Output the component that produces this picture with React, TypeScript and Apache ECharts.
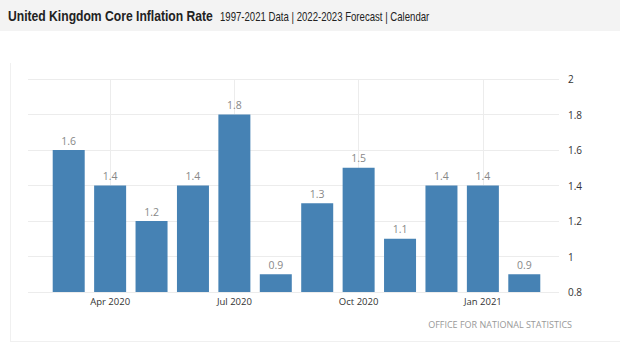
import React, { useEffect, useRef } from "react";
import * as echarts from "echarts";

const categories = [
  "Mar 2020", "Apr 2020", "May 2020", "Jun 2020", "Jul 2020", "Aug 2020",
  "Sep 2020", "Oct 2020", "Nov 2020", "Dec 2020", "Jan 2021", "Feb 2021",
];
const coreInflation = [1.6, 1.4, 1.2, 1.4, 1.8, 0.9, 1.3, 1.5, 1.1, 1.4, 1.4, 0.9];
const yMin = 0.8;
const yMax = 2;
const yStep = 0.2;
const titleText = "United Kingdom Core Inflation Rate";
const subtitleText = "1997-2021 Data | 2022-2023 Forecast | Calendar";
const sourceText = "OFFICE FOR NATIONAL STATISTICS";

const labelShown = (i: number) => i % 3 === 1;

export default function App() {
  const ref = useRef<HTMLDivElement>(null);
  useEffect(() => {
    if (!ref.current) return;
    const chart = echarts.init(ref.current, null, { renderer: "svg" });
    const top = 79;
    const bottom = 60;
    const barLeft = 48;
    const barWidthTotal = 497;
    const band = barWidthTotal / categories.length;
    chart.setOption({
      animation: false,
      backgroundColor: "#ffffff",
      graphic: [
        { type: "rect", shape: { x: 0, y: 0, width: 620, height: 31 }, style: { fill: "#f3f3f3" }, z: -10 },
        { type: "line", shape: { x1: 10.5, y1: 63, x2: 10.5, y2: 341 }, style: { stroke: "#f0f0f0", lineWidth: 1 }, z: -10 },
        { type: "line", shape: { x1: 10, y1: 341.5, x2: 620, y2: 341.5 }, style: { stroke: "#f0f0f0", lineWidth: 1 }, z: -10 },
        {
          type: "text", x: 8, y: 16, scaleX: 0.81,
          style: { text: titleText, fontFamily: "'Liberation Sans', Arial", fontWeight: "bold", fontSize: 15, fill: "#222", verticalAlign: "middle" },
        },
        {
          type: "text", x: 220, y: 16.5, scaleX: 0.8,
          style: { text: subtitleText, fontFamily: "'Liberation Sans', Arial", fontSize: 12, fill: "#222", verticalAlign: "middle" },
        },
        {
          type: "text", right: 48, top: 320,
          style: { text: sourceText, fontFamily: "'Open Sans', sans-serif", fontSize: 9, fill: "#999" },
        },
      ],
      grid: [
        { left: barLeft, top, width: barWidthTotal, bottom },
        { left: 28, top, width: 531, bottom },
        { left: barLeft + band / 2, top, width: barWidthTotal - band, bottom },
      ],
      xAxis: [
        {
          type: "category", gridIndex: 0, data: categories, boundaryGap: true,
          axisLine: { show: false }, axisTick: { show: false },
          axisLabel: { interval: (i: number) => labelShown(i), color: "#333", fontFamily: "'Open Sans', sans-serif", fontSize: 9.5, margin: 4 },
          splitLine: { show: false },
        },
        { type: "value", gridIndex: 1, show: false, min: 0, max: 1 },
        {
          type: "category", gridIndex: 2, data: categories, boundaryGap: false,
          axisLine: { show: false }, axisTick: { show: false }, axisLabel: { show: false },
          splitLine: { show: true, interval: (i: number) => labelShown(i), lineStyle: { color: "#ececec", width: 1 } },
        },
      ],
      yAxis: [
        { type: "value", gridIndex: 0, min: yMin, max: yMax, interval: yStep, show: false },
        {
          type: "value", gridIndex: 1, min: yMin, max: yMax, interval: yStep, position: "right",
          axisLine: { show: false }, axisTick: { show: false },
          axisLabel: { color: "#333", fontFamily: "'Open Sans', sans-serif", fontSize: 10, margin: 9 },
          splitLine: { show: true, lineStyle: { color: "#ececec", width: 1 } },
        },
        { type: "value", gridIndex: 2, min: yMin, max: yMax, interval: yStep, show: false, splitLine: { show: false } },
      ],
      series: [
        {
          type: "bar", xAxisIndex: 0, yAxisIndex: 0, data: coreInflation, barWidth: 32,
          itemStyle: { color: "#4682b4" },
          label: { show: true, position: "top", distance: 4, color: "#888", fontFamily: "'Open Sans', sans-serif", fontSize: 10.5 },
          z: 3,
        },
      ],
    });
    return () => chart.dispose();
  }, []);
  return <div ref={ref} style={{ position: "absolute", left: 0, top: 0, width: 620, height: 352 }} />;
}
